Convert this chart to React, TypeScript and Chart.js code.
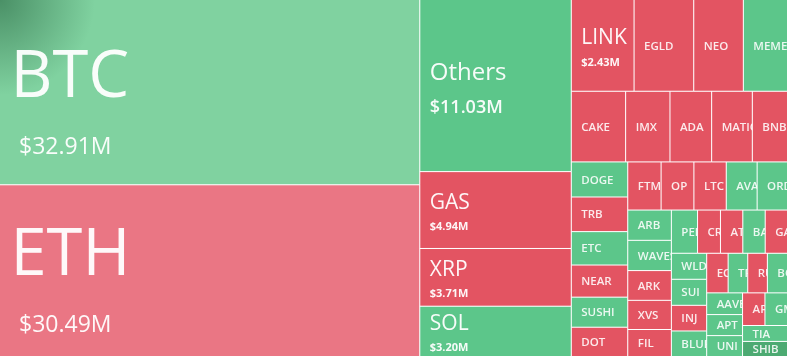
import React, { useEffect, useRef } from "react";
import { Chart, registerables } from "chart.js";

Chart.register(...registerables);

// ---- data (liquidation volume by coin, USD millions) ----
const names = [
  "BTC", "ETH", "Others", "GAS", "XRP", "SOL", "LINK", "EGLD", "NEO", "MEME",
  "CAKE", "IMX", "ADA", "MATIC", "BNB", "DOGE", "TRB", "ETC", "NEAR", "SUSHI",
  "DOT", "FTM", "OP", "LTC", "AVAX", "ORDI", "ARB", "WAVES", "ARK", "XVS",
  "FIL", "PEPE", "CRV", "ATOM", "BAKE", "GALA", "WLD", "SUI", "INJ", "BLUR",
  "EOS", "TRX", "RUNE", "BCH", "AAVE", "APT", "UNI", "APE", "GMT", "TIA", "SHIB",
];
const values = [
  32.91, 30.49, 11.03, 4.94, 3.71, 3.2, 2.43, 2.31, 1.92, 1.69,
  1.63, 1.33, 1.25, 1.22, 1.04, 0.84, 0.83, 0.8, 0.77, 0.72,
  0.69, 0.68, 0.67, 0.66, 0.63, 0.61, 0.56, 0.56, 0.55, 0.54,
  0.49, 0.48, 0.42, 0.41, 0.41, 0.4, 0.39, 0.39, 0.385, 0.375,
  0.36, 0.33, 0.33, 0.33, 0.33, 0.32, 0.31, 0.31, 0.305, 0.3, 0.275,
];
// price change (%), sign gives the colour, size the shade
const changes = [
  0.6, -0.6, 2, -2, -2, 2, -2, -2, -2, 2,
  -2, -2, -2, -2, -2, 2, -2, 2, -2, 2,
  -2, -2, -2, -2, 2, 2, 2, 2, -2, -2,
  -2, 2, -2, -2, 2, -2, 2, 2, -2, 2,
  -2, 2, -2, 2, 2, 2, 2, -2, 2, 2, 6,
];

const AREA_W = 787;
const AREA_H = 356;

type Cell = { x: number; y: number; w: number; h: number };

function layoutTreemap(vals: number[], W: number, H: number): Cell[] {
  const total = vals.reduce((a, b) => a + b, 0);
  const areas = vals.map((v) => (v * W * H) / total);
  const order = vals.map((_, i) => i).sort((a, b) => vals[b] - vals[a]);
  const out: Cell[] = new Array(vals.length);
  const rect = { x: 0, y: 0, width: W, height: H };
  const ratio = 0.5 * (1 + Math.sqrt(5));
  let fixed = Math.min(rect.width, rect.height);
  let best = Infinity;
  let row: number[] = [];
  let rowArea = 0;

  const worst = () => {
    let amax = 0;
    let amin = Infinity;
    for (const i of row) {
      amax = Math.max(amax, areas[i]);
      amin = Math.min(amin, areas[i]);
    }
    const sq = rowArea * rowArea;
    const f = fixed * fixed * ratio;
    return sq ? Math.max((f * amax) / sq, sq / (f * amin)) : Infinity;
  };

  const position = (flush: boolean) => {
    const horiz = fixed === rect.width;
    let last = horiz ? rect.x : rect.y;
    let other = fixed ? rowArea / fixed : 0;
    const otherMax = horiz ? rect.height : rect.width;
    if (flush || other > otherMax) other = otherMax;
    row.forEach((i, k) => {
      const step = other ? areas[i] / other : 0;
      const end = horiz ? rect.x + rect.width : rect.y + rect.height;
      const remain = end - last;
      const mod = k === row.length - 1 || remain < step ? remain : step;
      out[i] = horiz
        ? { x: last, y: rect.y, w: mod, h: other }
        : { x: rect.x, y: last, w: other, h: mod };
      last += mod;
    });
    if (horiz) {
      rect.y += other;
      rect.height -= other;
    } else {
      rect.x += other;
      rect.width -= other;
    }
  };

  for (let k = 0; k < order.length; ) {
    const i = order[k];
    row.push(i);
    rowArea += areas[i];
    const score = worst();
    if (score <= best) {
      k++;
      best = score;
    } else {
      row.pop();
      rowArea -= areas[i];
      position(false);
      fixed = Math.min(rect.width, rect.height);
      row = [];
      rowArea = 0;
      best = Infinity;
    }
  }
  if (row.length) position(true);
  return out;
}

function colorFor(ch: number): string {
  if (ch >= 0) {
    if (ch < 1) return "#80d2a0";
    if (ch > 5) return "#4caa72";
    return "#5cc68a";
  }
  if (ch > -1) return "#ea7684";
  return "#e35462";
}

const FONT = "'Open Sans', 'Noto Sans', sans-serif";
const CAP = 0.714;

const treemapPlugin = {
  id: "treemapCells",
  beforeDatasetsDraw(chart: any) {
    const ctx = chart.ctx as CanvasRenderingContext2D;
    const xs = chart.scales.x;
    const ys = chart.scales.y;
    const cells = layoutTreemap(values, AREA_W, AREA_H);
    const order = values.map((_, i) => i).sort((a, b) => values[b] - values[a]);
    const rank: number[] = [];
    order.forEach((idx, r) => (rank[idx] = r));
    const area = chart.chartArea;

    const px = cells.map((c) => {
      const x0 = xs.getPixelForValue(c.x);
      const x1 = xs.getPixelForValue(c.x + c.w);
      const y0 = ys.getPixelForValue(c.y);
      const y1 = ys.getPixelForValue(c.y + c.h);
      return { x: x0, y: y0, w: x1 - x0, h: y1 - y0 };
    });

    ctx.save();
    ctx.fillStyle = "#ffffff";
    ctx.fillRect(area.left, area.top, area.right - area.left, area.bottom - area.top);

    px.forEach((p, i) => {
      ctx.fillStyle = colorFor(changes[i]);
      ctx.fillRect(p.x, p.y, p.w, p.h);
      if (rank[i] === 0) {
        // soft shade in the top-left corner of the largest tile
        const g = ctx.createRadialGradient(p.x, p.y, 0, p.x, p.y, 95);
        g.addColorStop(0, "rgba(30,90,55,0.55)");
        g.addColorStop(1, "rgba(30,90,55,0)");
        ctx.fillStyle = g;
        ctx.fillRect(p.x, p.y, p.w, p.h);
      }
    });

    // white separators
    ctx.strokeStyle = "#ffffff";
    ctx.lineWidth = 1;
    px.forEach((p) => {
      ctx.beginPath();
      if (p.x + p.w < area.right - 0.5) {
        ctx.moveTo(p.x + p.w, p.y);
        ctx.lineTo(p.x + p.w, p.y + p.h);
      }
      if (p.y + p.h < area.bottom - 0.5) {
        ctx.moveTo(p.x, p.y + p.h);
        ctx.lineTo(p.x + p.w, p.y + p.h);
      }
      ctx.stroke();
    });

    // labels
    px.forEach((p, i) => {
      const r = rank[i];
      ctx.save();
      ctx.beginPath();
      ctx.rect(p.x, p.y, p.w, p.h);
      ctx.clip();
      ctx.textAlign = "left";
      ctx.textBaseline = "alphabetic";
      const cy = p.y + p.h / 2;
      const valueText = "$" + values[i].toFixed(2) + "M";
      let nameSize: number, nameWeight: string, valSize = 0, valWeight = "400", gap = 0, offset = 0;
      let nameX = p.x + 10;
      let valX = p.x + 10;
      if (r <= 1) {
        nameSize = 65; nameWeight = "400"; valSize = 23; valWeight = "400"; gap = 72; offset = 17;
        nameX = p.x + 10.5; valX = p.x + 19;
      } else if (r === 2) {
        nameSize = 24; nameWeight = "400"; valSize = 18; valWeight = "600"; gap = 35; offset = 3;
      } else if (r <= 6) {
        nameSize = 21; nameWeight = "400"; valSize = 11; valWeight = "700"; gap = 25; offset = 3.5;
      } else {
        nameSize = 11.5; nameWeight = "600";
      }
      if (valSize) {
        const nameC = cy + offset - gap / 2;
        const valC = cy + offset + gap / 2;
        ctx.fillStyle = "rgba(255,255,255,0.95)";
        ctx.font = `${nameWeight} ${nameSize}px ${FONT}`;
        ctx.fillText(names[i], nameX, nameC + (nameSize * CAP) / 2);
        ctx.font = `${valWeight} ${valSize}px ${FONT}`;
        ctx.fillText(valueText, valX, valC + (valSize * CAP) / 2);
      } else {
        ctx.fillStyle = "rgba(255,255,255,0.88)";
        ctx.font = `${nameWeight} ${nameSize}px ${FONT}`;
        ctx.fillText(names[i], nameX, cy + (nameSize * CAP) / 2);
      }
      ctx.restore();
    });
    ctx.restore();
  },
};

export default function App() {
  const canvasRef = useRef<HTMLCanvasElement | null>(null);

  useEffect(() => {
    if (!canvasRef.current) return;
    const chart = new Chart(canvasRef.current, {
      type: "scatter",
      data: { datasets: [{ data: [], pointRadius: 0 }] },
      options: {
        animation: false,
        responsive: false,
        maintainAspectRatio: false,
        layout: { padding: 0 },
        events: [],
        scales: {
          x: { type: "linear", min: 0, max: AREA_W, display: false },
          y: { type: "linear", min: 0, max: AREA_H, reverse: true, display: false },
        },
        plugins: { legend: { display: false }, tooltip: { enabled: false } },
      },
      plugins: [treemapPlugin],
    } as any);
    return () => chart.destroy();
  }, []);

  return (
    <div style={{ position: "fixed", left: 0, top: 0, width: AREA_W, height: AREA_H, background: "#fff" }}>
      <canvas ref={canvasRef} width={AREA_W} height={AREA_H} style={{ display: "block", width: AREA_W, height: AREA_H }} />
    </div>
  );
}
